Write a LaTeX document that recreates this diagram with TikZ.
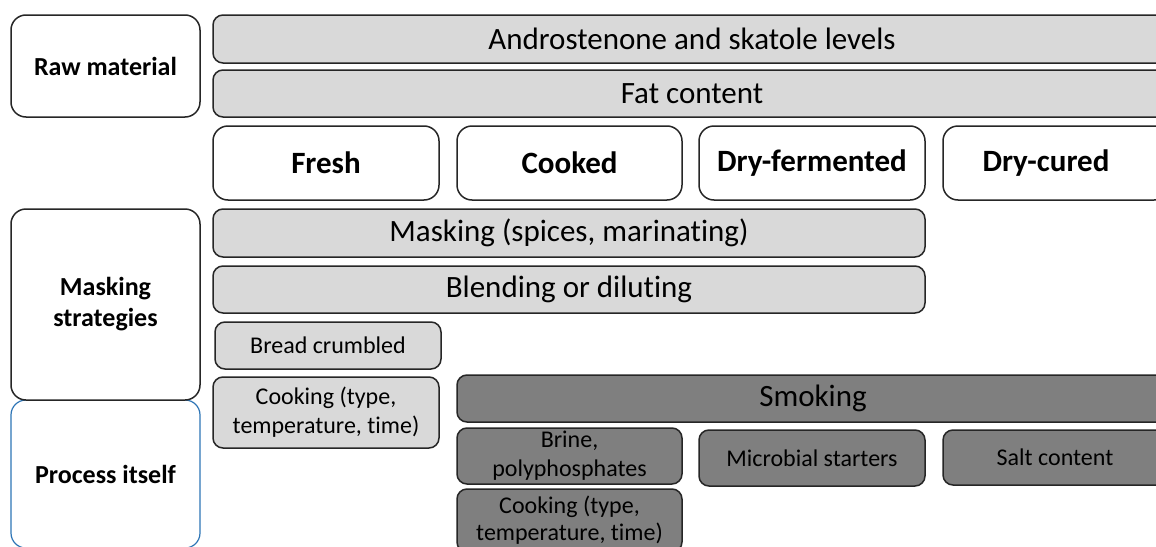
\documentclass[tikz,border=0pt]{standalone}
\usepackage{fontspec}
\setmainfont[Ligatures={NoCommon}]{Carlito}
\definecolor{lg}{HTML}{D9D9D9}
\definecolor{dg}{HTML}{7F7F7F}
\definecolor{bl}{HTML}{2E75B6}
\definecolor{ln}{HTML}{262626}
\newcommand\rbox[7]{\node[#6, minimum width={(#4-#2)*1pt}, minimum height={(#5-#3)*1pt}] (#1) at ({(#2+#4)/2},{(#3+#5)/2}) {#7};}
\begin{document}
\begin{tikzpicture}[x=1pt,y=-1pt,
  base/.style={draw=ln, line width=1.5pt, rounded corners=10pt, inner sep=0pt, align=center, text=black},
  light/.style={base, fill=lg},
  dark/.style={base, fill=dg},
  wbox/.style={base, fill=white, rounded corners=15pt},
  pbox/.style={base, fill=white, draw=bl, line width=1.2pt, rounded corners=15pt},
  big/.style={font=\fontsize{31}{36}\selectfont},
  bigb/.style={font=\fontsize{31}{36}\selectfont\bfseries},
  small/.style={font=\fontsize{24}{29}\selectfont},
  smalltight/.style={font=\fontsize{24}{27}\selectfont},
  catb/.style={font=\fontsize{26}{31}\selectfont\bfseries}]
\useasboundingbox (0,0) rectangle (1156,546);
\clip (0,0) rectangle (1156,546);
\fill[white] (0,0) rectangle (1156,546);
% left categories
\rbox{raw}{11}{15}{200}{117}{wbox,catb}{Raw material}
\rbox{proc}{11}{400}{200}{548}{pbox,catb}{Process itself}
\rbox{mask}{11}{209}{200}{400}{wbox,catb}{Masking\\strategies}
% raw material rows
\rbox{andro}{213}{15}{1171}{63}{light,big}{Androstenone and skatole levels}
\rbox{fat}{213}{70}{1171}{117}{light,big}{Fat content}
% products
\rbox{fresh}{213}{126}{439}{200}{wbox,bigb}{Fresh}
\rbox{cooked}{457}{126}{682}{200}{wbox,bigb}{Cooked}
\rbox{dryf}{699}{126}{925}{200}{wbox,bigb}{Dry-fermented}
\rbox{dryc}{943}{126}{1169}{200}{wbox}{}
\node[bigb, inner sep=0pt] (dryclabel) at (1046,163) {Dry-cured};
% masking strategies
\rbox{spices}{213}{209}{925}{257}{light,big}{Masking (spices, marinating)}
\rbox{blend}{213}{266}{925}{313}{light,big}{Blending or diluting}
\rbox{bread}{215}{322}{441}{369}{light,small}{Bread crumbled}
\rbox{cookl}{213}{377}{439}{448}{light,small}{Cooking (type,\\temperature, time)}
% process
\rbox{smoke}{457}{375}{1169}{422}{dark,big}{Smoking}
\rbox{brine}{457}{428}{682}{484}{dark,small}{Brine,\\polyphosphates}
\rbox{micro}{699}{430}{925}{486}{dark,small}{Microbial starters}
\rbox{salt}{943}{430}{1167}{485}{dark,small}{Salt content}
\rbox{cookd}{457}{489}{682}{552}{dark,smalltight}{Cooking (type,\\temperature, time)}
\end{tikzpicture}
\end{document}
